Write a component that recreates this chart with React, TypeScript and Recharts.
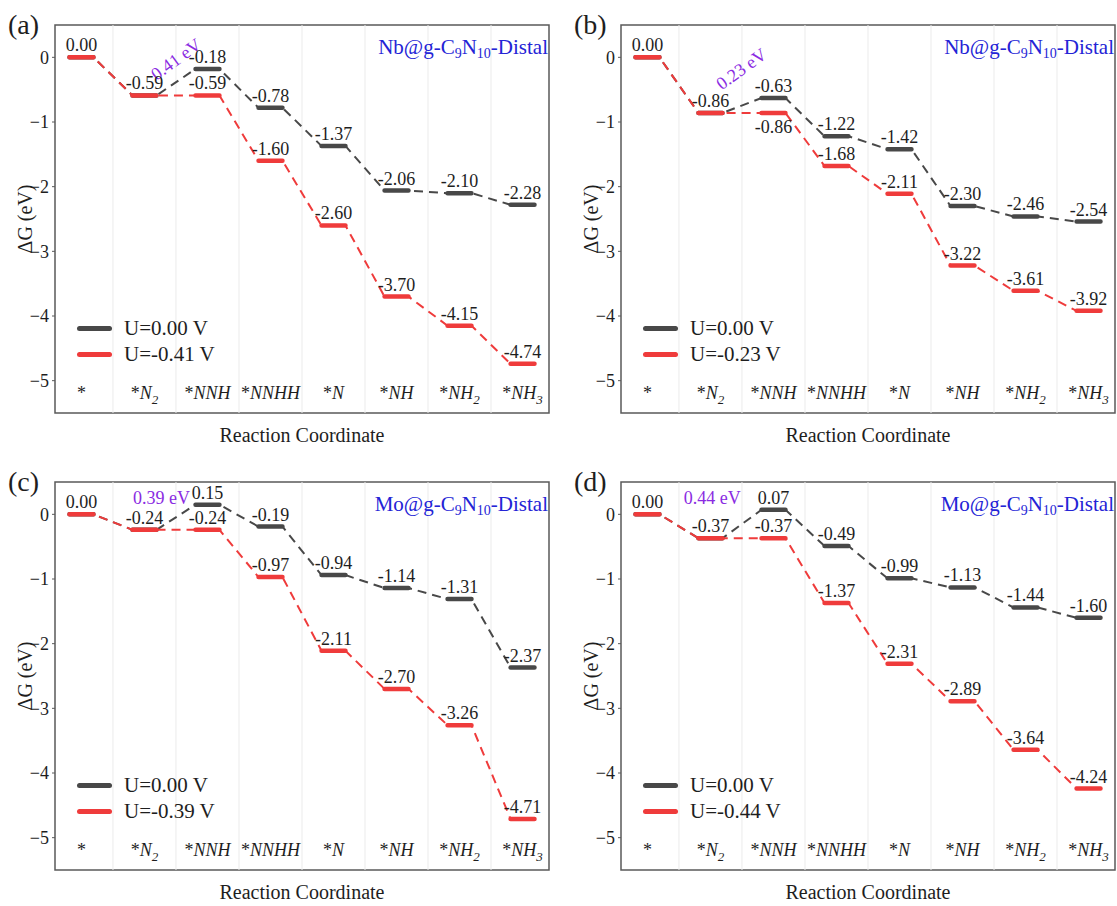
import React from "react";
import {
  LineChart,
  Line,
  XAxis,
  YAxis,
  ReferenceLine,
  ReferenceArea,
  ReferenceDot,
  LabelList,
  Label,
} from "recharts";

// reaction intermediates along the distal pathway
const STATES = ["*", "*N2", "*NNH", "*NNHH", "*N", "*NH", "*NH2", "*NH3"];

// ΔG (eV) at U = 0 V and at the limiting potential
const NB_A_U0 = [0, -0.59, -0.18, -0.78, -1.37, -2.06, -2.1, -2.28];
const NB_A_UL = [0, -0.59, -0.59, -1.6, -2.6, -3.7, -4.15, -4.74];
const NB_B_U0 = [0, -0.86, -0.63, -1.22, -1.42, -2.3, -2.46, -2.54];
const NB_B_UL = [0, -0.86, -0.86, -1.68, -2.11, -3.22, -3.61, -3.92];
const MO_C_U0 = [0, -0.24, 0.15, -0.19, -0.94, -1.14, -1.31, -2.37];
const MO_C_UL = [0, -0.24, -0.24, -0.97, -2.11, -2.7, -3.26, -4.71];
const MO_D_U0 = [0, -0.37, 0.07, -0.49, -0.99, -1.13, -1.44, -1.6];
const MO_D_UL = [0, -0.37, -0.37, -1.37, -2.31, -2.89, -3.64, -4.24];

const PANEL_IDS = ["(a)", "(b)", "(c)", "(d)"];
const METALS = ["Nb", "Nb", "Mo", "Mo"];
const APPLIED_U = ["-0.41", "-0.23", "-0.39", "-0.44"];
const LIMITING = ["0.41 eV", "0.23 eV", "0.39 eV", "0.44 eV"];

const U0_SERIES = [NB_A_U0, NB_B_U0, MO_C_U0, MO_D_U0];
const UL_SERIES = [NB_A_UL, NB_B_UL, MO_C_UL, MO_D_UL];

// where the limiting-step note sits (data coords) and its tilt
const NOTE_LAYOUT = [
  { x: 1.5, y: -0.03, angle: -36 },
  { x: 1.49, y: -0.18, angle: -36 },
  { x: 1.27, y: 0.26, angle: 0 },
  { x: 1.03, y: 0.26, angle: 0 },
];

const BLACK = "#484848";
const RED = "#ef3b3b";
const FRAME = "#5a5a5a";
const TEXT = "#1e1e1e";
const FONT = '"Liberation Serif", "Times New Roman", serif';
const W = 560;
const H = 450;
const X_DOMAIN = [-0.42, 7.42];
const Y_DOMAIN = [-5.5, 0.5];
const Y_TICKS = [0, -1, -2, -3, -4, -5];
const X_TICKS = STATES.map((_, i) => i);
const DIVIDERS = STATES.slice(1).map((_, i) => i + 0.5);
const HALF = 0.19;

type Row = { x: number; y: number | null; above?: string; below?: string };

const fmt = (v: number) => v.toFixed(2);

function levelRows(vals: number[], where: (i: number) => "above" | "below" | null): Row[] {
  const rows: Row[] = [];
  vals.forEach((v, i) => {
    const w = where(i);
    rows.push({ x: i - HALF, y: v });
    rows.push({ x: i, y: v, ...(w ? { [w]: fmt(v) } : {}) });
    rows.push({ x: i + HALF, y: v });
    if (i < vals.length - 1) rows.push({ x: i + 0.5, y: null });
  });
  return rows;
}

function pathRows(vals: number[]): Row[] {
  return vals.flatMap((v, i) => [
    { x: i - HALF, y: v },
    { x: i + HALF, y: v },
  ]);
}

const StateTick = (props: any) => {
  const { x, y, payload } = props;
  const name: string = STATES[payload.value] ?? "";
  const m = name.match(/^\*([A-Z]*)(\d?)$/) || ["", "", ""];
  return (
    <text x={x} y={y - 14} textAnchor="middle" fontSize={18} fontFamily={FONT} fill={TEXT}>
      <tspan>*</tspan>
      {m[1] ? <tspan fontStyle="italic">{m[1]}</tspan> : null}
      {m[2] ? (
        <tspan fontStyle="italic" fontSize={13} dy={5}>
          {m[2]}
        </tspan>
      ) : null}
    </text>
  );
};

const valueLabel = (shift: number) => (props: any) => {
  const { x, y, value } = props;
  if (value == null || value === "" || x == null || y == null) return null;
  return (
    <text x={x} y={y + shift} textAnchor="middle" fontSize={18} fontFamily={FONT} fill={TEXT}>
      {value}
    </text>
  );
};

function Panel({ idx }: { idx: number }) {
  const u0 = U0_SERIES[idx];
  const ul = UL_SERIES[idx];
  const blackLevels = levelRows(u0, () => "above");
  const redLevels = levelRows(ul, (i) =>
    ul[i] === u0[i] ? null : u0[i] - ul[i] < 0.3 ? "below" : "above"
  );
  const note = NOTE_LAYOUT[idx];
  const col = idx % 2;
  const row = Math.floor(idx / 2);

  return (
    <div style={{ position: "absolute", left: col * 566, top: row * 457, width: W, height: H }}>
      <LineChart width={W} height={H} margin={{ top: 25, right: 11, left: 0, bottom: 0 }}>
        {DIVIDERS.map((d) => (
          <ReferenceLine key={d} x={d} stroke="#ebebeb" strokeWidth={1} />
        ))}
        <XAxis
          type="number"
          dataKey="x"
          domain={X_DOMAIN}
          ticks={X_TICKS}
          interval={0}
          tick={<StateTick />}
          tickLine={false}
          axisLine={false}
          tickSize={0}
          tickMargin={0}
          height={37}
          allowDataOverflow
        >
          <Label
            value="Reaction Coordinate"
            position="insideBottom"
            offset={8}
            fontSize={20}
            fontFamily={FONT}
            fill={TEXT}
          />
        </XAxis>
        <YAxis
          type="number"
          domain={Y_DOMAIN}
          ticks={Y_TICKS}
          interval={0}
          width={55}
          tickSize={3}
          tickMargin={3}
          axisLine={false}
          tickLine={{ stroke: FRAME }}
          tick={{ fontSize: 18, fill: TEXT, fontFamily: FONT }}
          tickFormatter={(v: number) => (v < 0 ? "\u2212" + Math.abs(v) : String(v))}
          allowDataOverflow
        >
          <Label
            value="ΔG (eV)"
            angle={-90}
            position="center"
            dx={-3}
            fontSize={20}
            fontFamily={FONT}
            fill={TEXT}
          />
        </YAxis>
        <ReferenceArea
          x1={X_DOMAIN[0]}
          x2={X_DOMAIN[1]}
          y1={Y_DOMAIN[0]}
          y2={Y_DOMAIN[1]}
          fill="none"
          fillOpacity={0}
          stroke={FRAME}
          strokeWidth={1.5}
          ifOverflow="visible"
        />
        <Line
          data={pathRows(u0)}
          dataKey="y"
          stroke={BLACK}
          strokeWidth={2}
          strokeDasharray="9 6"
          dot={false}
          activeDot={false}
          isAnimationActive={false}
        />
        <Line
          data={blackLevels}
          dataKey="y"
          stroke={BLACK}
          strokeWidth={4.5}
          strokeLinecap="round"
          dot={false}
          activeDot={false}
          isAnimationActive={false}
        >
          <LabelList dataKey="above" content={valueLabel(-6)} />
        </Line>
        <Line
          data={pathRows(ul)}
          dataKey="y"
          stroke={RED}
          strokeWidth={2}
          strokeDasharray="9 6"
          dot={false}
          activeDot={false}
          isAnimationActive={false}
        />
        <Line
          data={redLevels}
          dataKey="y"
          stroke={RED}
          strokeWidth={4.5}
          strokeLinecap="round"
          dot={false}
          activeDot={false}
          isAnimationActive={false}
        >
          <LabelList dataKey="above" content={valueLabel(-6)} />
          <LabelList dataKey="below" content={valueLabel(20)} />
        </Line>
        <ReferenceDot
          x={note.x}
          y={note.y}
          r={1}
          ifOverflow="visible"
          shape={(p: any) => (
            <text
              x={p.cx}
              y={p.cy}
              textAnchor="middle"
              dominantBaseline="central"
              fontSize={18}
              fontFamily={FONT}
              fill="#8a2be2"
              transform={`rotate(${note.angle}, ${p.cx}, ${p.cy})`}
            >
              {LIMITING[idx]}
            </text>
          )}
        />
      </LineChart>

      <div
        style={{
          position: "absolute",
          left: 8,
          top: 11,
          fontSize: 28,
          lineHeight: "28px",
          color: TEXT,
        }}
      >
        {PANEL_IDS[idx]}
      </div>

      <div
        style={{
          position: "absolute",
          right: 12,
          top: 37,
          fontSize: 21,
          lineHeight: "21px",
          color: "#2424d6",
          whiteSpace: "nowrap",
        }}
      >
        {METALS[idx]}@g-C
        <sub style={{ fontSize: 14, verticalAlign: "-4px", lineHeight: 0 }}>9</sub>N
        <sub style={{ fontSize: 14, verticalAlign: "-4px", lineHeight: 0 }}>10</sub>-Distal
      </div>

      <div style={{ position: "absolute", left: 77, top: 315, fontSize: 21, color: TEXT }}>
        {[
          { color: BLACK, text: "U=0.00 V" },
          { color: RED, text: `U=${APPLIED_U[idx]} V` },
        ].map((item) => (
          <div
            key={item.text}
            style={{ display: "flex", alignItems: "center", height: 26, whiteSpace: "nowrap" }}
          >
            <span
              style={{
                display: "inline-block",
                width: 35,
                height: 5,
                borderRadius: 3,
                background: item.color,
                marginRight: 12,
              }}
            />
            <span>{item.text}</span>
          </div>
        ))}
      </div>
    </div>
  );
}

export default function App() {
  return (
    <div
      style={{
        position: "absolute",
        left: 0,
        top: 0,
        width: 1117,
        height: 906,
        background: "#fff",
        fontFamily: FONT,
      }}
    >
      {PANEL_IDS.map((_, i) => (
        <Panel key={i} idx={i} />
      ))}
    </div>
  );
}
